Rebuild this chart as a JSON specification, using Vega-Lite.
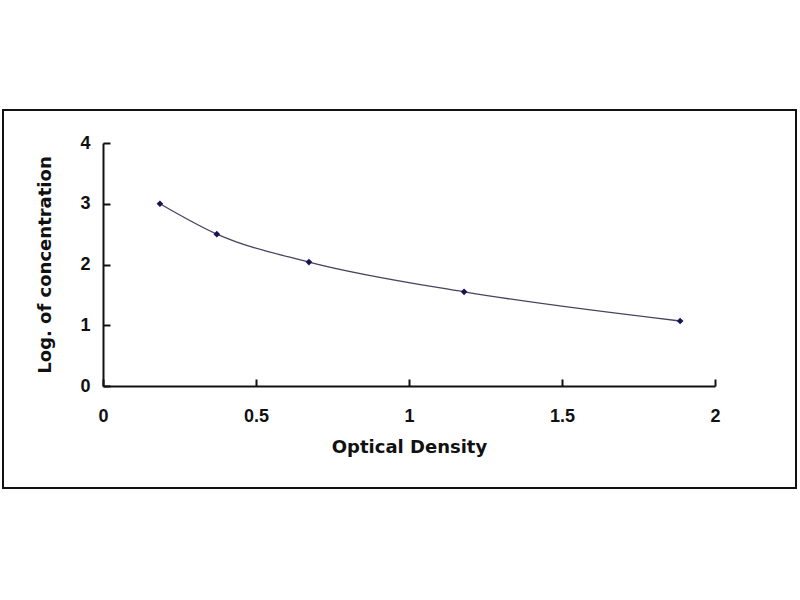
{
  "$schema": "https://vega.github.io/schema/vega-lite/v6.json",
  "width": 793,
  "height": 378,
  "padding": {"left": 3, "top": 110, "right": 4, "bottom": 112},
  "autosize": {"type": "none"},
  "background": "white",
  "config": {
    "view": {"stroke": "#111111", "strokeWidth": 2},
    "axis": {
      "grid": false,
      "domainColor": "#111111",
      "domainWidth": 2,
      "ticks": true,
      "tickColor": "#111111",
      "tickWidth": 2,
      "labelFont": "Liberation Sans",
      "labelFontWeight": "bold",
      "labelFontSize": 18,
      "labelColor": "#111111",
      "titleFont": "DejaVu Sans",
      "titleFontWeight": "bold",
      "titleFontSize": 18,
      "titleColor": "#111111"
    }
  },
  "data": {
    "values": [
      {"od": 0.186, "logc": 3.0},
      {"od": 0.372, "logc": 2.5},
      {"od": 0.673, "logc": 2.04},
      {"od": 1.18, "logc": 1.55},
      {"od": 1.886, "logc": 1.07}
    ]
  },
  "encoding": {
    "x": {
      "field": "od",
      "type": "quantitative",
      "scale": {"domain": [0, 2], "range": [100, 712], "nice": false, "zero": false},
      "axis": {"title": "Optical Density", "values": [0, 0.5, 1, 1.5, 2], "labelExpr": "datum.value", "offset": -102, "tickSize": -7, "labelPadding": 28, "titlePadding": 13, "labelFlush": false}
    },
    "y": {
      "field": "logc",
      "type": "quantitative",
      "scale": {"domain": [0, 4], "range": [276, 33], "nice": false, "zero": false},
      "axis": {"title": "Log. of concentration", "values": [0, 1, 2, 3, 4], "offset": -100, "tickSize": -7, "labelPadding": 20, "titlePadding": 25, "labelFlush": false}
    }
  },
  "layer": [
    {
      "mark": {"type": "line", "interpolate": "monotone", "color": "#44445e", "strokeWidth": 1.3}
    },
    {
      "mark": {"type": "point", "shape": "diamond", "filled": true, "color": "#15155a", "size": 45, "opacity": 1}
    }
  ]
}
